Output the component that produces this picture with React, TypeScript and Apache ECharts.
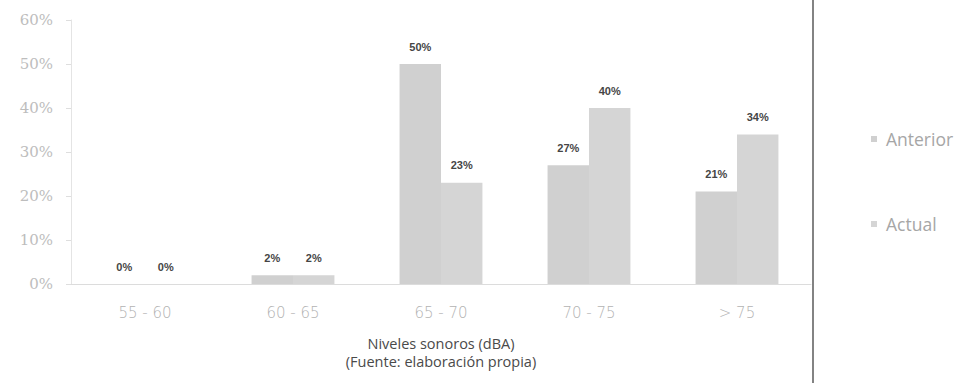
import React, { useEffect, useRef } from "react";
import * as echarts from "echarts";

// Noise-level ranges (dBA) and the share of measurements in each, before and now
const categories = ["55 - 60", "60 - 65", "65 - 70", "70 - 75", "> 75"];
const anterior = [0, 2, 50, 27, 21];
const actual = [0, 2, 23, 40, 34];
const seriesNames = ["Anterior", "Actual"];

export default function App() {
  const ref = useRef<HTMLDivElement>(null);

  useEffect(() => {
    if (!ref.current) return;
    const chart = echarts.init(ref.current, null, { renderer: "svg" });

    const labelStyle = {
      show: true,
      position: "top" as const,
      distance: 12,
      formatter: (p: any) => `${p.value}%`,
      fontFamily: "Liberation Sans",
      fontSize: 11,
      fontWeight: "bold" as const,
      color: "#454545",
    };

    chart.setOption({
      animation: false,
      backgroundColor: "#ffffff",
      grid: { left: 71, right: 144, top: 20, bottom: 99 },
      legend: {
        orient: "vertical",
        left: 866,
        top: 125,
        itemGap: 67,
        itemWidth: 6,
        itemHeight: 6,
        icon: "rect",
        data: seriesNames,
        textStyle: {
          fontFamily: "Open Sans",
          fontSize: 17.5,
          color: "#a6a6a6",
          padding: [0, 0, 0, 4],
        },
      },
      xAxis: {
        type: "category",
        data: categories,
        axisLine: { show: true, lineStyle: { color: "#dcdcdc", width: 1 } },
        axisTick: { show: false },
        axisLabel: {
          fontFamily: "DejaVu Sans",
          fontWeight: 200,
          fontSize: 15,
          color: "#b2b2b2",
          margin: 21,
        },
        name: "Niveles sonoros (dBA)\n(Fuente: elaboración propia)",
        nameLocation: "middle",
        nameGap: 50,
        nameTextStyle: {
          fontFamily: "Open Sans",
          fontSize: 14.5,
          color: "#4a4a4a",
          lineHeight: 18,
        },
      },
      yAxis: {
        type: "value",
        min: 0,
        max: 60,
        interval: 10,
        axisLine: { show: true, lineStyle: { color: "#e4e4e4", width: 1 } },
        axisTick: { show: true, length: 5, lineStyle: { color: "#dedede" } },
        splitLine: { show: false },
        axisLabel: {
          formatter: "{value}%",
          fontFamily: "DejaVu Serif",
          fontWeight: 200,
          fontSize: 15,
          color: "#bdbdbd",
          margin: 18,
        },
      },
      series: [
        {
          name: seriesNames[0],
          type: "bar",
          data: anterior,
          barGap: "0%",
          barCategoryGap: "44%",
          itemStyle: { color: "#d0d0d0" },
          label: labelStyle,
        },
        {
          name: seriesNames[1],
          type: "bar",
          data: actual,
          itemStyle: { color: "#d5d5d5" },
          label: labelStyle,
        },
      ],
      graphic: [
        {
          type: "line",
          shape: { x1: 813, y1: 0, x2: 813, y2: 383 },
          style: { stroke: "#5a5a5a", lineWidth: 1.5 },
        },
      ],
    });

    return () => chart.dispose();
  }, []);

  return (
    <div
      ref={ref}
      style={{ position: "fixed", left: 0, top: 0, width: 955, height: 383 }}
    />
  );
}
